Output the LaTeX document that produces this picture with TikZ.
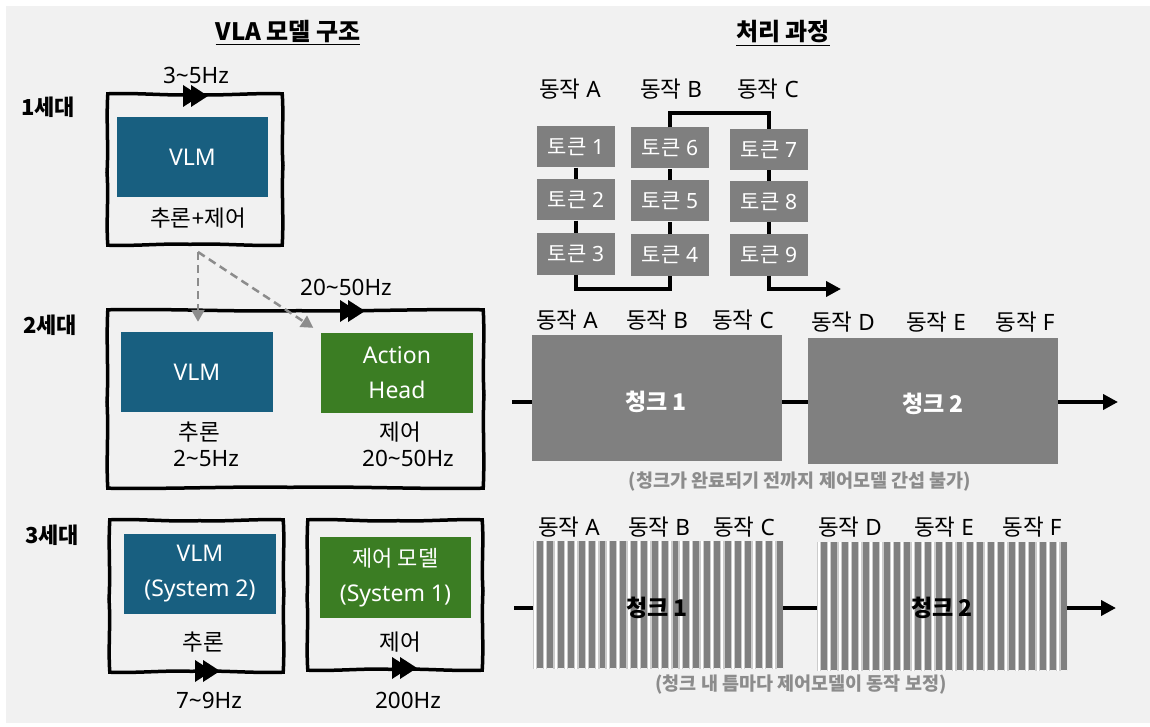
\documentclass[tikz,border=0pt]{standalone}
\usepackage{fontspec}
\setmainfont{Noto Sans}
\newfontfamily\kr{Noto Sans CJK KR}
\usetikzlibrary{arrows.meta,calc}
\definecolor{bgc}{HTML}{F1F1F1}
\definecolor{vblue}{HTML}{185F80}
\definecolor{agreen}{HTML}{3B7D23}
\definecolor{tokgray}{HTML}{7F7F7F}
\definecolor{capgray}{HTML}{8C8C8C}
\definecolor{chgray}{HTML}{808080}
\newcommand{\tlde}{\char"007E\relax}
\newcommand{\wseg}[3]{ .. controls ($(#1)!.33!(#2)+#3$) and ($(#1)!.66!(#2)-#3$) .. (#2)}
\newcommand{\wframe}[1]{%
\coordinate (#1-n) at ($(#1.north)+(3,0.9)$);
\coordinate (#1-e) at ($(#1.east)+(0.8,-4)$);
\coordinate (#1-s) at ($(#1.south)+(-5,-0.9)$);
\coordinate (#1-w) at ($(#1.west)+(-0.8,3)$);
\draw[framestyle] (#1.north west) \wseg{#1.north west}{#1-n}{(0,-1.6)} \wseg{#1-n}{#1.north east}{(0,1.3)}
  \wseg{#1.north east}{#1-e}{(1.5,0)} \wseg{#1-e}{#1.south east}{(-1.4,0)}
  \wseg{#1.south east}{#1-s}{(0,1.5)} \wseg{#1-s}{#1.south west}{(0,-1.4)}
  \wseg{#1.south west}{#1-w}{(-1.5,0)} \wseg{#1-w}{#1.north west}{(1.4,0)} -- cycle;}
\begin{document}
\begin{tikzpicture}[x=1pt,y=-1pt,
  lbl/.style={font=\fontsize{22.5}{26}\selectfont, inner sep=0},
  genlbl/.style={font=\kr\bfseries\fontsize{22}{26}\selectfont, inner sep=0},
  ttl/.style={font=\kr\bfseries\fontsize{24}{28}\selectfont, inner sep=0},
  framestyle/.style={draw, line width=3.5pt, line join=miter},
  fnode/.style={inner sep=0},
  mbox/.style={text=white, font=\fontsize{23}{35}\selectfont, inner sep=0, align=center},
  tok/.style={fill=tokgray, text=white, font=\fontsize{21}{24}\selectfont, inner sep=0,
     minimum width=78, minimum height=41},
  conn/.style={line width=4pt},
  arrtip/.style={-{Triangle[length=15pt,width=15pt]}},
  dasharr/.style={draw=capgray, line width=2.5pt, dash pattern=on 8pt off 5pt,
     -{Triangle[length=12pt,width=13pt]}},
  chunk/.style={fill=chgray, inner sep=0, minimum width=250, minimum height=126},
  chtxt/.style={font=\kr\bfseries\fontsize{23}{26}\selectfont, inner sep=0},
  captxt/.style={text=capgray, font=\kr\bfseries\fontsize{18.5}{22}\selectfont, inner sep=0},
  dblarrow/.pic={\fill (-12.5,-11) -- (4.5,0) -- (-12.5,11) -- cycle;
                 \fill (-4.5,-11) -- (12.5,0) -- (-4.5,11) -- cycle;}
]
\useasboundingbox (0,0) rectangle (1150,727);
\fill[white] (0,0) rectangle (1150,727);
\fill[bgc] (6,6) rectangle (1150,723);

% titles
\node[ttl] (title1) at (288,33) {\underline{VLA 모델 구조}};
\node[ttl] (title2) at (783,33) {\underline{처리 과정}};

% generation labels
\node[genlbl] (gen1) at (48,107) {1세대};
\node[genlbl] (gen2) at (50,325) {2세대};
\node[genlbl] (gen3) at (52,535) {3세대};

% ---------- Gen 1
\node[fnode, minimum width=174, minimum height=151] (g1) at (195,169.5) {};
\wframe{g1}
\pic at (195.5,96) {dblarrow};
\node[lbl] (f1) at (196,75) {3\tlde5Hz};
\node[mbox, fill=vblue, minimum width=151, minimum height=80] (vlm1) at (192.5,157) {VLM};
\node[lbl] (s1) at (198,218) {{\kr 추론}+{\kr 제어}};

% ---------- Gen 2
\node[fnode, minimum width=375, minimum height=178] (g2) at (295.5,399) {};
\wframe{g2}
\pic at (352.5,311) {dblarrow};
\node[lbl] (f2) at (346,287) {20\tlde50Hz};
\node[mbox, fill=vblue, minimum width=152, minimum height=80] (vlm2) at (197,372) {VLM};
\node[mbox, fill=agreen, minimum width=152, minimum height=80] (ah) at (397,373) {Action\\Head};
\node[lbl] (s2a) at (199,432) {\kr 추론};
\node[lbl] (s2b) at (206,458) {2\tlde5Hz};
\node[lbl] (s2c) at (400,432) {\kr 제어};
\node[lbl] (s2d) at (408,458) {20\tlde50Hz};

% dashed arrows
\coordinate (ds) at (198,252);
\draw[dasharr, shorten >=10pt] (ds) -- (ds |- vlm2.north);
\draw[dasharr, shorten >=9pt] (ds) -- (ah.north west);

% ---------- Gen 3
\node[fnode, minimum width=173, minimum height=152] (g3a) at (196.5,596) {};
\node[fnode, minimum width=174, minimum height=150] (g3b) at (395,595) {};
\wframe{g3a}
\wframe{g3b}
\pic at (207.5,671) {dblarrow};
\pic at (404.5,668) {dblarrow};
\node[mbox, fill=vblue, minimum width=152, minimum height=80] (vlm3) at (200,574) {VLM\\(System 2)};
\node[mbox, fill=agreen, minimum width=151, minimum height=81] (cm3) at (395.5,577.5) {{\kr\fontsize{22}{35}\selectfont 제어 모델}\\(System 1)};
\node[lbl] (s3a) at (203,642) {\kr 추론};
\node[lbl] (s3b) at (400,642) {\kr 제어};
\node[lbl] (f3a) at (209,700) {7\tlde9Hz};
\node[lbl] (f3b) at (408,700) {200Hz};

% ---------- Gen 1 process: tokens
\node[lbl] (a1) at (570,89) {{\kr 동작} A};
\node[lbl] (a2) at (671,89) {{\kr 동작} B};
\node[lbl] (a3) at (768,89) {{\kr 동작} C};

\node[tok] (t1) at (576,147) {{\kr 토큰} 1};
\node[tok] (t2) at (576,200) {{\kr 토큰} 2};
\node[tok] (t3) at (576,254) {{\kr 토큰} 3};
\node[tok] (t6) at (670,148) {{\kr 토큰} 6};
\node[tok] (t5) at (670,201) {{\kr 토큰} 5};
\node[tok] (t4) at (670,255) {{\kr 토큰} 4};
\node[tok] (t7) at (769,149.5) {{\kr 토큰} 7};
\node[tok] (t8) at (769,201.5) {{\kr 토큰} 8};
\node[tok] (t9) at (769,255) {{\kr 토큰} 9};
\coordinate (tend) at (841,289);

\draw[conn] (t1) -- (t2);
\draw[conn] (t2) -- (t3);
\draw[conn] (t3.south) -- (t3.south |- tend) -| (t4.south);
\draw[conn] (t4) -- (t5);
\draw[conn] (t5) -- (t6);
\draw[conn] (t6.north) -- ($(t6.north |- 0,113)$) -| (t7.north);
\draw[conn] (t7) -- (t8);
\draw[conn] (t8) -- (t9);
\draw[conn, arrtip] (t9.south) -- (t9.south |- tend) -- (tend);

% ---------- Gen 2 process: chunks
\node[lbl] (b1) at (567,320) {{\kr 동작} A};
\node[lbl] (b2) at (657,320) {{\kr 동작} B};
\node[lbl] (b3) at (743,320) {{\kr 동작} C};
\node[lbl] (b4) at (843,322) {{\kr 동작} D};
\node[lbl] (b5) at (936,322) {{\kr 동작} E};
\node[lbl] (b6) at (1025,322) {{\kr 동작} F};

\node[chunk] (c1) at (657,398) {};
\node[chunk] (c2) at (933,401) {};
\node[chtxt, text=white] (c1t) at (656,402) {청크 1};
\node[chtxt, text=white] (c2t) at (933,404) {청크 2};
\coordinate (l0) at (512,402);
\coordinate (l1) at (1118,402);
\draw[conn] (l0) -- (l0 -| c1.west);
\draw[conn] (c1.east |- l0) -- (c2.west |- l0);
\draw[conn, arrtip] (c2.east |- l0) -- (l1);
\node[captxt] (cap1) at (800,482) {(청크가 완료되기 전까지 제어모델 간섭 불가)};

% ---------- Gen 3 process: striped chunks
\node[lbl] (d1) at (569,527) {{\kr 동작} A};
\node[lbl] (d2) at (659,527) {{\kr 동작} B};
\node[lbl] (d3) at (744,527) {{\kr 동작} C};
\node[lbl] (d4) at (850,527) {{\kr 동작} D};
\node[lbl] (d5) at (944,527) {{\kr 동작} E};
\node[lbl] (d6) at (1032,527) {{\kr 동작} F};

\node[chunk, minimum height=127] (k1) at (658,604.5) {};
\node[chunk, minimum height=128] (k2) at (942,606) {};
\foreach \k in {k1,k2}{
  \begin{scope}
    \clip (\k.north west) rectangle (\k.south east);
    \foreach \i in {0,...,24}{
      \draw[line width=4.5pt, draw=white!80!black] ($(\k.north west)+(2+\i*10.42,0)$) -- ++(0,130);
      \draw[line width=2pt, draw=white] ($(\k.north west)+(2+\i*10.42,0)$) -- ++(0,130);
    }
  \end{scope}
}
\node[chtxt] (k1t) at (657,608) {청크 1};
\node[chtxt] (k2t) at (942,608) {청크 2};
\coordinate (m0) at (514,608);
\coordinate (m1) at (1116,608);
\draw[conn] (m0) -- (m0 -| k1.west);
\draw[conn] (k1.east |- m0) -- (k2.west |- m0);
\draw[conn, arrtip] (k2.east |- m0) -- (m1);
\node[captxt] (cap2) at (801,685) {(청크 내 틈마다 제어모델이 동작 보정)};
\end{tikzpicture}
\end{document}
